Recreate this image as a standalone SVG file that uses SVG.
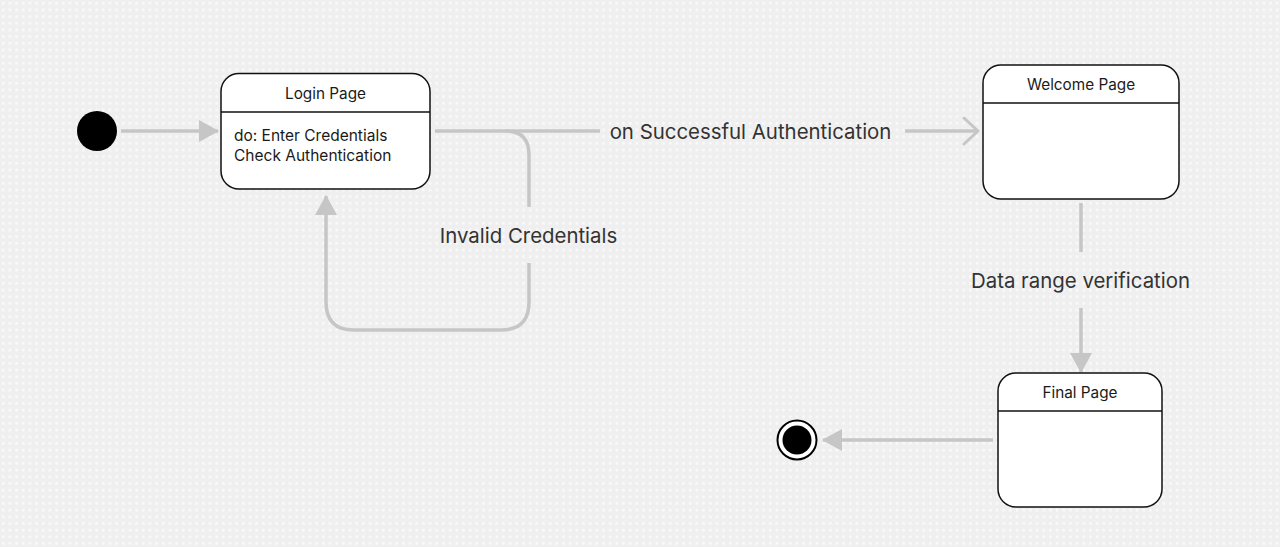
<svg xmlns="http://www.w3.org/2000/svg" width="1280" height="547" viewBox="0 0 1280 547">
<defs>
<pattern id="dots" x="0" y="0" width="6.67" height="6.67" patternUnits="userSpaceOnUse">
<rect x="2" y="2" width="2.4" height="2.4" fill="#fbfbfb"/>
</pattern>
<marker id="tri" viewBox="0 0 20 22" refX="19" refY="11" markerWidth="20" markerHeight="22" markerUnits="userSpaceOnUse" orient="auto">
<path d="M0,0 L20,11 L0,22 Z" fill="#c6c6c6"/>
</marker>
<marker id="chev" viewBox="0 0 18 30" refX="16" refY="15" markerWidth="18" markerHeight="30" markerUnits="userSpaceOnUse" orient="auto">
<path d="M2,2 L16,15 L2,28" fill="none" stroke="#c6c6c6" stroke-width="3" stroke-linecap="round" stroke-linejoin="round"/>
</marker>
</defs>
<style>
.box{fill:#ffffff;stroke:#111111;stroke-width:1.5}
.div{stroke:#111111;stroke-width:1.3}
.ttl{font-family:Inter,"Liberation Sans",sans-serif;font-size:15.3px;fill:#1a1a1a;text-anchor:middle}
.body{font-family:Inter,"Liberation Sans",sans-serif;font-size:15.5px;fill:#1a1a1a}
.lbl{font-family:Inter,"Liberation Sans",sans-serif;font-size:20.4px;fill:#333333;text-anchor:middle}
.con{fill:none;stroke:#c6c6c6;stroke-width:3.5}
</style>
<rect width="1280" height="547" fill="#efefef"/>
<rect width="1280" height="547" fill="url(#dots)"/>

<g id="connectors">
<path class="con" d="M121,131 L218,131" marker-end="url(#tri)"/>
<path class="con" d="M435,131 L600,131"/>
<path class="con" d="M905,131 L978,131" marker-end="url(#chev)"/>
<path class="con" d="M505,131 Q529,131 529,155 L529,207"/>
<path class="con" d="M529,263 L529,302 Q529,330 501,330 L354,330 Q326,330 326,302 L326,196" marker-end="url(#tri)"/>
<path class="con" d="M1081,203 L1081,252"/>
<path class="con" d="M1081,308 L1081,372" marker-end="url(#tri)"/>
<path class="con" d="M993,440 L823,440" marker-end="url(#tri)"/>
<text class="lbl" x="750.5" y="139">on Successful Authentication</text>
<text class="lbl" x="528.5" y="243">Invalid Credentials</text>
<text class="lbl" x="1080.5" y="288">Data range verification</text>
</g>

<g id="initial">
<circle cx="97" cy="131" r="20" fill="#000000"/>
</g>

<g id="login">
<rect class="box" x="221" y="73.5" width="209" height="115.5" rx="18"/>
<line class="div" x1="221" y1="112" x2="430" y2="112"/>
<text class="ttl" x="325.5" y="99">Login Page</text>
<text class="body" x="234" y="141">do: Enter Credentials</text>
<text class="body" x="234" y="161">Check Authentication</text>
</g>

<g id="welcome">
<rect class="box" x="983" y="65" width="196" height="134" rx="18"/>
<line class="div" x1="983" y1="103" x2="1179" y2="103"/>
<text class="ttl" x="1081" y="90">Welcome Page</text>
</g>

<g id="final">
<rect class="box" x="998" y="373" width="164" height="134" rx="18"/>
<line class="div" x1="998" y1="411" x2="1162" y2="411"/>
<text class="ttl" x="1080" y="398">Final Page</text>
</g>

<g id="end">
<circle cx="797" cy="440" r="19.5" fill="#ffffff" stroke="#000000" stroke-width="2"/>
<circle cx="797" cy="440" r="14.5" fill="#000000"/>
</g>
</svg>
